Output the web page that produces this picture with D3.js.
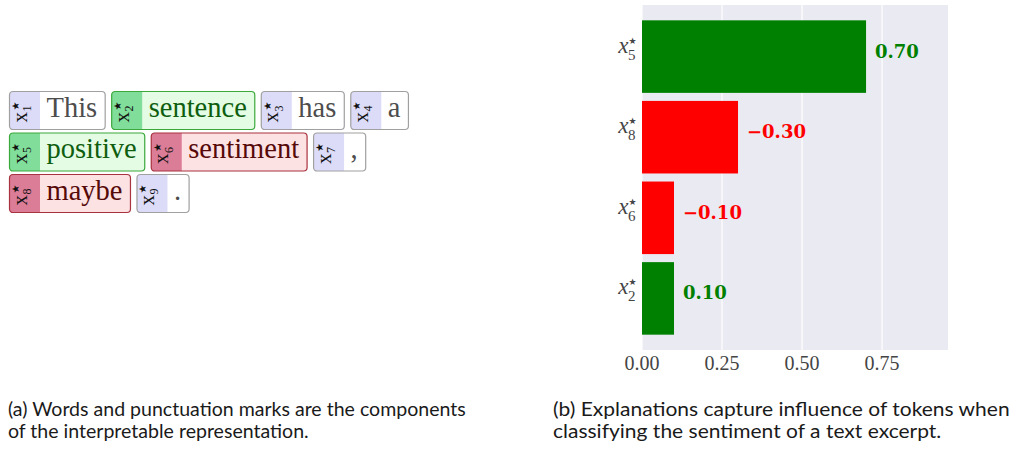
<!DOCTYPE html>
<html>
<head>
<meta charset="utf-8">
<script src="https://cdn.jsdelivr.net/npm/d3@7/dist/d3.min.js"></script>
<style>
  body { margin: 0; background: #fff; }
  svg { display: block; }
</style>
</head>
<body>
<svg id="fig" width="1013" height="449"></svg>
<script>
// Token data for panel (a)
var tokenWords = ["This", "sentence", "has", "a", "positive", "sentiment", ",", "maybe", "."];
var tokenIds = [1, 2, 3, 4, 5, 6, 7, 8, 9];
var tokenKinds = ["neutral", "pos", "neutral", "neutral", "pos", "neg", "neutral", "neg", "neutral"];

// Explanation data for panel (b), top to bottom
var featIds = [5, 8, 6, 2];
var featValues = [0.70, -0.30, -0.10, 0.10];
var xTicks = [0, 0.25, 0.50, 0.75];

// Captions
var captionA = ["(a) Words and punctuation marks are the components", "of the interpretable representation."];
var captionB = ["(b) Explanations capture influence of tokens when", "classifying the sentiment of a text excerpt."];

var svg = d3.select("#fig");

// colours per token kind
var palette = {
    neutral: { strip: "#dcdcf9", bg: "#ffffff", border: "#a0a0a0", text: "#4d4d4d" },
    pos: { strip: "#80dd9a", bg: "#e4fce4", border: "#3aa83a", text: "#0f5e0f" },
    neg: { strip: "#dc7d98", bg: "#fde2e3", border: "#a8323f", text: "#560909" }
};

// ---------- panel (a): token boxes ----------
var tokLeft = 9, tokTop = 91, wrapAt = 412;
var boxH = 38, rowStep = 41.5, gap = 6.5, stripW = 31;
var tokLayer = svg.append("g");
var cx = tokLeft, row = 0;
for (var i = 0; i < tokenWords.length; i++) {
    var col = palette[tokenKinds[i]];
    var g = tokLayer.append("g");
    var word = g.append("text")
        .attr("font-family", "Liberation Serif, serif")
        .attr("font-size", 28.5)
        .attr("fill", col.text)
        .text(tokenWords[i]);
    var tw = word.node().getComputedTextLength();
    var w = stripW + tw + 14;
    if (cx + w > wrapAt && cx > tokLeft) {
        cx = tokLeft;
        row++;
    }
    var y0 = tokTop + row * rowStep;
    g.attr("transform", "translate(" + cx + "," + y0 + ")");
    // background + strip, inserted beneath the word
    g.insert("rect", "text").attr("x", 0.5).attr("y", 0.5).attr("width", w).attr("height", boxH)
        .attr("rx", 3.5).attr("fill", col.bg);
    g.insert("path", "text")
        .attr("d", "M" + (stripW) + ",0.5 H4 Q0.5,0.5 0.5,4 V" + (boxH - 3) + " Q0.5," + (boxH + 0.5) + " 4," + (boxH + 0.5) + " H" + stripW + "Z")
        .attr("fill", col.strip);
    g.append("rect").attr("x", 0.5).attr("y", 0.5).attr("width", w).attr("height", boxH)
        .attr("rx", 3.5).attr("fill", "none").attr("stroke", col.border).attr("stroke-width", 1.2);
    word.attr("x", stripW + 6.5).attr("y", 25.5);
    // rotated label x*_i in the strip
    var lab = g.append("g").attr("transform", "translate(" + (stripW / 2 + 0.5) + "," + (boxH / 2 + 0.5) + ") rotate(-90)");
    lab.append("text").attr("x", -12).attr("y", 1.5)
        .attr("font-family", "Liberation Serif, serif").attr("font-size", 21).attr("fill", "#111").text("x");
    lab.append("text").attr("x", -1).attr("y", 6)
        .attr("font-family", "Liberation Serif, serif").attr("font-size", 12).attr("fill", "#111").text(tokenIds[i]);
    lab.append("text").attr("x", 0).attr("y", -6)
        .attr("font-family", "DejaVu Sans, sans-serif").attr("font-size", 10).attr("fill", "#111").text("★");
    cx += w + gap;
}

// ---------- panel (b): horizontal bar chart ----------
var plot = { left: 642, right: 948, top: 5, bottom: 350 };
var x = d3.scaleLinear().domain([0, 0.956]).range([plot.left, plot.right]);
var y = d3.scaleBand().domain(featIds).range([plot.top, plot.bottom]).paddingInner(0.1).paddingOuter(0.19);

svg.append("rect")
    .attr("x", plot.left).attr("y", plot.top)
    .attr("width", plot.right - plot.left).attr("height", plot.bottom - plot.top)
    .attr("fill", "#eaeaf2");

svg.append("g").selectAll("line").data(xTicks).enter().append("line")
    .attr("x1", function(d) { return x(d); }).attr("x2", function(d) { return x(d); })
    .attr("y1", plot.top).attr("y2", plot.bottom)
    .attr("stroke", "#ffffff").attr("stroke-width", 1.2);

function barColor(v) { return v >= 0 ? "#008000" : "#ff0000"; }

var bars = svg.append("g").selectAll("g").data(featIds).enter().append("g");
bars.append("rect")
    .attr("x", x(0))
    .attr("y", function(d) { return y(d); })
    .attr("width", function(d, i) { return x(Math.abs(featValues[i])) - x(0); })
    .attr("height", y.bandwidth())
    .attr("fill", function(d, i) { return barColor(featValues[i]); });

bars.append("text")
    .attr("x", function(d, i) { return x(Math.abs(featValues[i])) + 9; })
    .attr("y", function(d) { return y(d) + y.bandwidth() / 2 + 1; })
    .attr("font-family", "DejaVu Serif, serif")
    .attr("font-weight", "bold")
    .attr("font-size", 18)
    .attr("fill", function(d, i) { return barColor(featValues[i]); })
    .text(function(d, i) { return d3.format(".2f")(featValues[i]).replace("-", "\u2212"); });

// y labels x*_i
var ylab = svg.append("g").selectAll("g").data(featIds).enter().append("g")
    .attr("transform", function(d) { return "translate(0," + (y(d) + y.bandwidth() / 2) + ")"; });
ylab.append("text").attr("x", 628.5).attr("y", -4).attr("text-anchor", "end")
    .attr("font-family", "Liberation Serif, serif").attr("font-style", "italic").attr("font-size", 23)
    .attr("fill", "#444").text("x");
ylab.append("text").attr("x", 628).attr("y", 3)
    .attr("font-family", "Liberation Serif, serif").attr("font-size", 15)
    .attr("fill", "#444").text(function(d) { return d; });
ylab.append("text").attr("x", 628.5).attr("y", -13)
    .attr("font-family", "DejaVu Sans, sans-serif").attr("font-size", 9)
    .attr("fill", "#444").text("★");

// x tick labels
svg.append("g").selectAll("text").data(xTicks).enter().append("text")
    .attr("x", function(d) { return x(d); })
    .attr("y", 370)
    .attr("text-anchor", "middle")
    .attr("font-family", "Liberation Serif, serif")
    .attr("font-size", 20)
    .attr("fill", "#444")
    .text(function(d) { return d3.format(".2f")(d); });

// ---------- captions ----------
function caption(lines, left, targetW) {
    var g = svg.append("g");
    var texts = lines.map(function(t, k) {
        return g.append("text").attr("x", 0).attr("y", 416 + k * 22.5)
            .attr("font-family", "Lato, sans-serif").attr("font-size", 19)
            .attr("fill", "#1a1a1a").text(t);
    });
    var natural = texts[0].node().getComputedTextLength();
    g.attr("transform", "translate(" + left + ",0) scale(" + (targetW / natural) + ",1)");
}
caption(captionA, 8, 458);
caption(captionB, 553, 457);
</script>
</body>
</html>
